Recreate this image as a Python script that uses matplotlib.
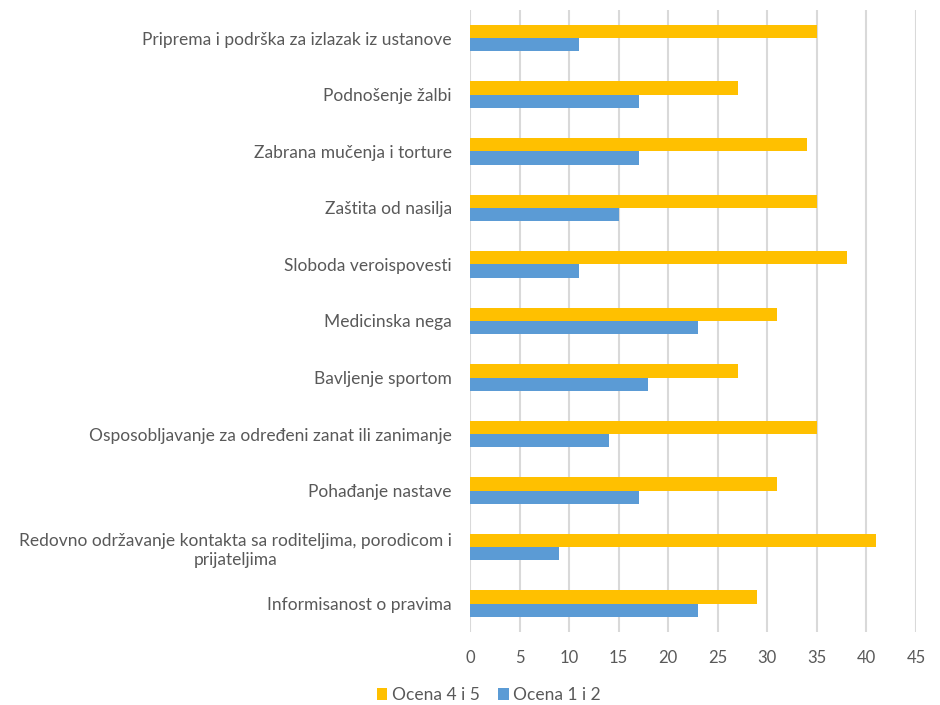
import matplotlib
matplotlib.use("Agg")
import matplotlib.pyplot as plt
import numpy as np

categories = [
    "Priprema i podrška za izlazak iz ustanove",
    "Podnošenje žalbi",
    "Zabrana mučenja i torture",
    "Zaštita od nasilja",
    "Sloboda veroispovesti",
    "Medicinska nega",
    "Bavljenje sportom",
    "Osposobljavanje za određeni zanat ili zanimanje",
    "Pohađanje nastave",
    "Redovno održavanje kontakta sa roditeljima, porodicom i\nprijateljima",
    "Informisanost o pravima",
]
ocena_45 = [35, 27, 34, 35, 38, 31, 27, 35, 31, 41, 29]
ocena_12 = [11, 17, 17, 15, 11, 23, 18, 14, 17, 9, 23]
series_names = ["Ocena 4 i 5", "Ocena 1 i 2"]
xticks = list(range(0, 50, 5))

plt.rcParams['font.family'] = ['Lato', 'DejaVu Sans']
text_color = "#595959"

fig = plt.figure(figsize=(9.4, 7.05), dpi=100)
ax = fig.add_axes([0.5, 0.1035, 0.4745, 0.8825])

n = len(categories)
y = np.arange(n)
h = 0.235
ax.barh(y - h/2, ocena_45, height=h, color="#FFC000", label=series_names[0], zorder=3)
ax.barh(y + h/2, ocena_12, height=h, color="#5B9BD5", label=series_names[1], zorder=3)

ax.set_ylim(n - 0.5, -0.5)
ax.set_xlim(0, 45)
ax.set_xticks(xticks)
ax.set_xticklabels([str(t) for t in xticks], fontsize=12, color=text_color)
ax.set_yticks(y)
ax.set_yticklabels(categories, fontsize=12.5, color=text_color, multialignment="center",
                   linespacing=1.25)
ax.tick_params(axis="both", length=0)
ax.tick_params(axis="y", pad=13)
ax.tick_params(axis="x", pad=13)
ax.grid(axis="x", color="#D9D9D9", linewidth=1.5, zorder=0)
for s in ax.spines.values():
    s.set_visible(False)

handles, labels = ax.get_legend_handles_labels()
leg = fig.legend(handles, labels, loc="center", bbox_to_anchor=(0.52, 0.014), ncol=2,
                 frameon=False, fontsize=12.5, handlelength=0.6, handleheight=0.6,
                 handletextpad=0.25, columnspacing=1.1)
for t in leg.get_texts():
    t.set_color(text_color)

fig.savefig("out.png", dpi=100)
